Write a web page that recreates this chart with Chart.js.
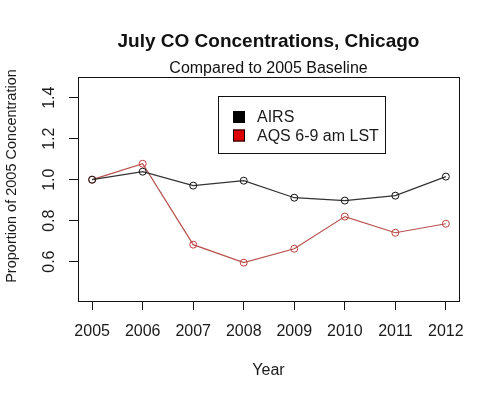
<!DOCTYPE html>
<html>
<head>
<meta charset="utf-8">
<script src="https://cdn.jsdelivr.net/npm/chart.js@4"></script>
<style>
  body { margin: 0; background: #fff; }
  canvas { display: block; }
</style>
</head>
<body>
<canvas id="myChart" width="500" height="399"></canvas>
<script>
const years = [2005, 2006, 2007, 2008, 2009, 2010, 2011, 2012];
const airs = [1.000, 1.039, 0.971, 0.995, 0.912, 0.898, 0.922, 1.015];
const aqs = [1.000, 1.078, 0.683, 0.595, 0.663, 0.820, 0.741, 0.785];
const yTicks = [0.6, 0.8, 1.0, 1.2, 1.4];
const seriesNames = ['AIRS', 'AQS 6-9 am LST'];
const yTitle = 'Proportion of 2005 Concentration';

const FONT = '"Liberation Sans", Arial, sans-serif';
Chart.defaults.font.family = FONT;
Chart.defaults.color = '#1a1a1a';

// box around the plot region, like R's box()
const boxPlugin = {
  id: 'box',
  afterDraw(chart) {
    const { ctx, chartArea: a } = chart;
    ctx.save();
    ctx.strokeStyle = '#111';
    ctx.lineWidth = 1;
    ctx.strokeRect(Math.round(a.left) + 0.5, Math.round(a.top) + 0.5,
      Math.round(a.right - a.left), Math.round(a.bottom - a.top));
    // y axis title sits a bit above the middle of the plot in the original
    ctx.translate(12, 176);
    ctx.rotate(-Math.PI / 2);
    ctx.font = '14.5px ' + FONT;
    ctx.fillStyle = '#1a1a1a';
    ctx.textAlign = 'center';
    ctx.textBaseline = 'middle';
    ctx.fillText(yTitle, 0, 0);
    ctx.restore();
  }
};

// legend drawn inside the plot
const legendBox = {
  id: 'legendBox',
  afterDraw(chart) {
    const { ctx } = chart;
    const fills = ['#000000', '#dd0000'];
    ctx.save();
    ctx.strokeStyle = '#111';
    ctx.lineWidth = 1;
    ctx.strokeRect(218.5, 96.5, 167, 57);
    ctx.font = '16px ' + FONT;
    ctx.textBaseline = 'middle';
    chart.data.datasets.forEach((ds, i) => {
      const y = 117 + i * 18.5;
      ctx.fillStyle = fills[i];
      ctx.fillRect(233, y - 6, 12, 12);
      ctx.strokeStyle = '#000';
      ctx.strokeRect(233.5, y - 5.5, 11, 11);
      ctx.fillStyle = '#1a1a1a';
      ctx.fillText(ds.label, 257, y + 1);
    });
    ctx.restore();
  }
};

const ctx = document.getElementById('myChart').getContext('2d');
const myChart = new Chart(ctx, {
  type: 'line',
  data: {
    datasets: [{
      label: seriesNames[0],
      data: years.map((x, i) => ({ x: x, y: airs[i] })),
      borderColor: '#333333',
      borderWidth: 1.2,
      pointRadius: 3.5,
      pointBorderWidth: 1,
      pointBorderColor: '#111',
      pointBackgroundColor: 'rgba(0,0,0,0)',
      tension: 0
    }, {
      label: seriesNames[1],
      data: years.map((x, i) => ({ x: x, y: aqs[i] })),
      borderColor: '#b8504c',
      borderWidth: 1.2,
      pointRadius: 3.5,
      pointBorderWidth: 1,
      pointBorderColor: '#c0403c',
      pointBackgroundColor: 'rgba(0,0,0,0)',
      tension: 0
    }]
  },
  options: {
    responsive: false,
    animation: false,
    layout: { padding: { left: 0, right: 41, top: 0, bottom: 0 } },
    plugins: {
      legend: { display: false },
      tooltip: { enabled: false },
      title: {
        display: true,
        fullSize: false,
        text: 'July CO Concentrations, Chicago',
        font: { size: 19, weight: 'bold', lineHeight: 1 },
        color: '#111',
        padding: { top: 32, bottom: 10 }
      },
      subtitle: {
        display: true,
        fullSize: false,
        text: 'Compared to 2005 Baseline',
        font: { size: 16, lineHeight: 1 },
        color: '#111',
        padding: { top: 0, bottom: 0 }
      }
    },
    scales: {
      x: {
        type: 'linear',
        min: 2004.72,
        max: 2012.26,
        afterBuildTicks(scale) { scale.ticks = years.map(v => ({ value: v })); },
        afterFit(scale) { scale.height = 98; },
        ticks: {
          font: { size: 16 },
          color: '#1a1a1a',
          padding: 12,
          callback: v => String(v)
        },
        grid: { drawOnChartArea: false, tickLength: 9, color: '#111', tickWidth: 1 },
        border: { display: false },
        title: {
          display: true,
          text: 'Year',
          font: { size: 16 },
          color: '#1a1a1a',
          padding: { top: 0, bottom: 19 }
        }
      },
      y: {
        min: 0.408,
        max: 1.501,
        afterBuildTicks(scale) { scale.ticks = yTicks.map(v => ({ value: v })); },
        afterFit(scale) { scale.width = 78; },
        ticks: {
          font: { size: 16 },
          color: '#1a1a1a',
          minRotation: 90,
          maxRotation: 90,
          crossAlign: 'center',
          padding: 8,
          callback: v => v.toFixed(1)
        },
        grid: { drawOnChartArea: false, tickLength: 9, color: '#111', tickWidth: 1 },
        border: { display: false },
        title: { display: false }
      }
    }
  },
  plugins: [boxPlugin, legendBox]
});
</script>
</body>
</html>
